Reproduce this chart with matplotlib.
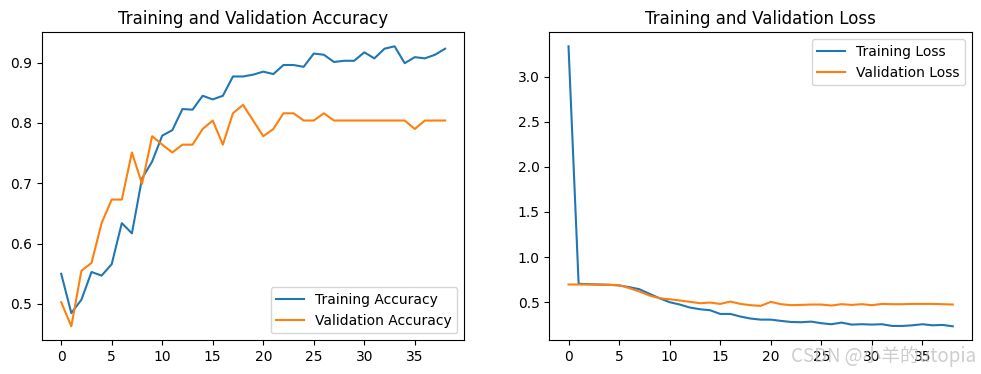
import matplotlib
matplotlib.use("Agg")
import matplotlib.pyplot as plt

epochs = list(range(39))

train_acc = [0.550, 0.485, 0.507, 0.553, 0.547, 0.566, 0.634, 0.617, 0.708, 0.736,
             0.779, 0.788, 0.823, 0.822, 0.845, 0.839, 0.845, 0.877, 0.877, 0.880,
             0.885, 0.881, 0.896, 0.896, 0.893, 0.915, 0.913, 0.901, 0.903, 0.903,
             0.917, 0.907, 0.923, 0.927, 0.899, 0.909, 0.907, 0.913, 0.923]
val_acc = [0.503, 0.463, 0.555, 0.568, 0.634, 0.673, 0.673, 0.751, 0.699, 0.778,
           0.764, 0.751, 0.764, 0.764, 0.790, 0.804, 0.764, 0.816, 0.830, 0.804,
           0.778, 0.790, 0.816, 0.816, 0.804, 0.804, 0.816, 0.804, 0.804, 0.804,
           0.804, 0.804, 0.804, 0.804, 0.804, 0.790, 0.804, 0.804, 0.804]
train_loss = [3.335, 0.704, 0.700, 0.696, 0.693, 0.685, 0.667, 0.644, 0.593, 0.544,
              0.500, 0.474, 0.441, 0.422, 0.411, 0.370, 0.370, 0.341, 0.319, 0.307,
              0.307, 0.293, 0.281, 0.278, 0.285, 0.267, 0.256, 0.274, 0.252, 0.256,
              0.252, 0.256, 0.237, 0.237, 0.244, 0.256, 0.244, 0.248, 0.233]
val_loss = [0.696, 0.696, 0.696, 0.694, 0.692, 0.690, 0.656, 0.619, 0.574, 0.544,
            0.533, 0.519, 0.504, 0.489, 0.496, 0.481, 0.507, 0.481, 0.467, 0.459,
            0.504, 0.478, 0.467, 0.470, 0.474, 0.474, 0.463, 0.478, 0.470, 0.478,
            0.467, 0.481, 0.478, 0.478, 0.481, 0.481, 0.481, 0.478, 0.474]

W, H = 981, 374
fig = plt.figure(figsize=(W / 100, H / 100), dpi=100)

ax1 = fig.add_axes([42 / W, (H - 340.3) / H, 422.3 / W, 308 / H])
ax1.plot(epochs, train_acc, label="Training Accuracy")
ax1.plot(epochs, val_acc, label="Validation Accuracy")
ax1.legend(loc="lower right")
ax1.set_title("Training and Validation Accuracy")

ax2 = fig.add_axes([549.3 / W, (H - 340.3) / H, 422.7 / W, 308 / H])
ax2.plot(epochs, train_loss, label="Training Loss")
ax2.plot(epochs, val_loss, label="Validation Loss")
ax2.legend(loc="upper right")
ax2.set_title("Training and Validation Loss")

fig.text(0.995, 0.047, "CSDN @小羊的utopia", ha="right", va="center",
         fontsize=13.5, color="#bdbdbd", alpha=0.75,
         family=["Noto Sans CJK SC", "DejaVu Sans"])

fig.savefig("out.png", dpi=100)
